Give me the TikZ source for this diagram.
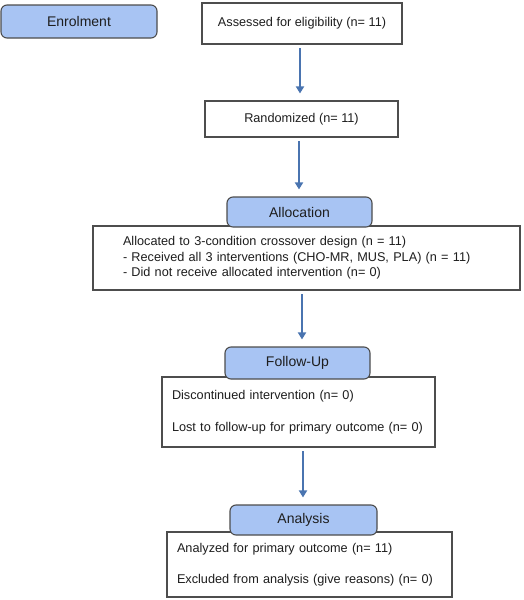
\documentclass[tikz,border=0pt]{standalone}
\usepackage{fontspec}
\setmainfont{Liberation Sans}
\usetikzlibrary{arrows.meta}
\definecolor{tabfill}{HTML}{A8C4F3}
\definecolor{edge}{HTML}{4D4D4D}
\definecolor{arrowc}{HTML}{4A74B0}
\definecolor{txt}{HTML}{1E1E1E}
\tikzset{
  tabbox/.style={draw=edge, line width=1.1pt, fill=tabfill, rounded corners=6pt,
    text=txt, font=\fontsize{14}{16}\selectfont, inner sep=0pt},
  plainbox/.style={draw=edge, line width=1.1pt, fill=white, text=txt,
    font=\fontsize{12.7}{15.5}\selectfont, inner sep=0pt},
  listbox/.style={plainbox, align=left, inner ysep=0pt},
  arr/.style={draw=arrowc, line width=2.2pt, -{Triangle[width=8pt,length=7pt]},
    shorten <=4pt, shorten >=7pt}
}
\begin{document}
\begin{tikzpicture}[x=1pt,y=1pt]
\useasboundingbox (0,0) rectangle (524,-600);
% enrolment
\node[tabbox, minimum width=156pt, minimum height=33pt] (enrol) at (79,-21.5) {Enrolment};
\node[plainbox, minimum width=200pt, minimum height=41pt] (assess) at (302,-23.5) {Assessed for eligibility (n= 11)};
\node[plainbox, minimum width=193pt, minimum height=36pt] (rand) at (301.5,-119) {Randomized (n= 11)};
% allocation
\node[listbox, minimum width=427pt, minimum height=64pt, text width=367pt, inner xsep=30pt] (allocbox) at (306.5,-258)
  {Allocated to 3-condition crossover design (n = 11)\\
   - Received all 3 interventions (CHO-MR, MUS, PLA) (n = 11)\\
   - Did not receive allocated intervention (n= 0)};
\node[tabbox, minimum width=145pt, minimum height=30pt] (alloc) at (299.5,-212) {Allocation};
% follow-up
\node[listbox, minimum width=273pt, minimum height=70pt, text width=253pt, inner xsep=10pt] (followbox) at (298.5,-412)
  {Discontinued intervention (n= 0)\\[17pt]
   Lost to follow-up for primary outcome (n= 0)};
\node[tabbox, minimum width=145pt, minimum height=32pt] (follow) at (297.5,-363) {Follow-Up};
% analysis
\node[listbox, minimum width=285pt, minimum height=65pt, text width=265pt, inner xsep=10pt] (anabox) at (309.5,-564.5)
  {Analyzed for primary outcome (n= 11)\\[16pt]
   Excluded from analysis (give reasons) (n= 0)};
\node[tabbox, minimum width=147pt, minimum height=30pt] (ana) at (303.5,-520) {Analysis};
% arrows
\coordinate (a1s) at (300,-44);
\coordinate (a2s) at (299,-137);
\coordinate (a3s) at (302,-290);
\coordinate (a4s) at (303,-447);
\draw[arr] (a1s) -- (a1s |- rand.north);
\draw[arr] (a2s) -- (a2s |- alloc.north);
\draw[arr] (a3s) -- (a3s |- follow.north);
\draw[arr] (a4s) -- (a4s |- ana.north);
\end{tikzpicture}
\end{document}
